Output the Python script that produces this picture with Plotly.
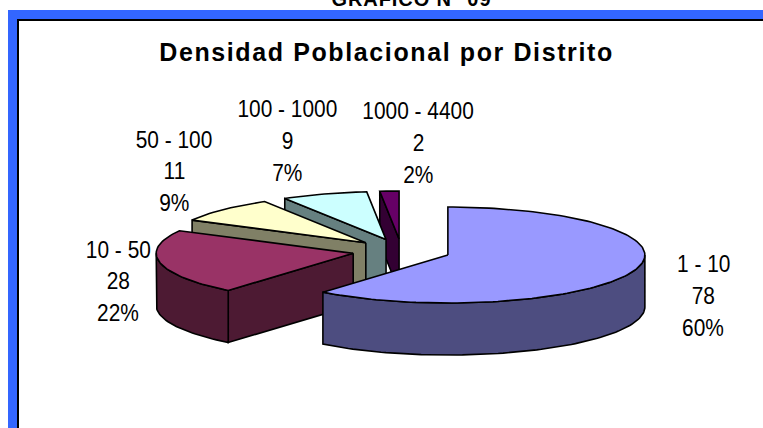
import math
import plotly.graph_objects as go

# --- data ---
categories = ["1 - 10", "10 - 50", "50 - 100", "100 - 1000", "1000 - 4400"]
values = [78, 28, 11, 9, 2]
percent_labels = ["60%", "22%", "9%", "7%", "2%"]

# --- styles ---
top_colors = ["#9999FF", "#993366", "#FFFFCC", "#CCFFFF", "#660066"]
side_colors = ["#4D4D80", "#4D1A33", "#808066", "#668080", "#330033"]
FONT = "Liberation Sans"
W, H = 763, 428

# --- layout of the projected pie, in pixels (axes map 1:1 to the page) ---
CX, CY, RX, RY, DEPTH, EXPLODE = 401.5, 251, 197, 48, 52, 0.25
label_x = [703, 118, 174, 287, 418]
label_y = [[263, 295, 327], [249, 280, 312], [139, 170, 202], [108, 140, 172], [110, 142, 174]]

fig = go.Figure()


def px(c, a):
    return c[0] + RX * math.sin(math.radians(a)), c[1] - RY * math.cos(math.radians(a))


def arc(c, a0, a1, dy=0.0):
    n = max(2, int(abs(a1 - a0) / 1.5) + 1)
    pts = [px(c, a0 + (a1 - a0) * i / (n - 1)) for i in range(n)]
    return [(x, y + dy) for x, y in pts]


def poly(pts, fill):
    xs = [p[0] for p in pts] + [pts[0][0]]
    ys = [p[1] for p in pts] + [pts[0][1]]
    fig.add_trace(go.Scatter(x=xs, y=ys, mode="lines", fill="toself", fillcolor=fill,
                             line=dict(color="#000000", width=1.6), hoverinfo="skip",
                             showlegend=False))


total = sum(values)
slices = []
start = 0.0
for i, v in enumerate(values):
    sweep = v / total * 360
    slices.append((i, start, start + sweep))
    start += sweep

# paint back to front
for i, a0, a1 in reversed(slices):
    mid = math.radians((a0 + a1) / 2)
    c = (CX + EXPLODE * RX * math.sin(mid), CY - EXPLODE * RY * math.cos(mid))
    side = side_colors[i]
    # cut faces that look towards the viewer
    if math.sin(math.radians(a0)) < -1e-6:
        e = px(c, a0)
        poly([c, e, (e[0], e[1] + DEPTH), (c[0], c[1] + DEPTH)], side)
    if math.sin(math.radians(a1)) > 1e-6:
        e = px(c, a1)
        poly([c, e, (e[0], e[1] + DEPTH), (c[0], c[1] + DEPTH)], side)
    # outer rim, front half only
    r0, r1 = max(a0, 90), min(a1, 270)
    if r1 > r0:
        poly(arc(c, r0, r1) + arc(c, r1, r0, DEPTH), side)
    # top
    poly([c] + arc(c, a0, a1), top_colors[i])

# slice labels, one line each
for i, cat in enumerate(categories):
    for text, y in zip([cat, str(values[i]), percent_labels[i]], label_y[i]):
        fig.add_annotation(x=label_x[i], y=y, text=text, showarrow=False, xanchor="center",
                           yanchor="middle", font=dict(family=FONT, size=24, color="#000000"))

fig.add_annotation(x=385.5, y=52, text="Densidad Poblacional por Distrito", showarrow=False,
                   xanchor="center", yanchor="middle",
                   font=dict(family=FONT, size=25, color="#000000", weight=700))
fig.add_annotation(x=411, y=0, yshift=1, text="GRAFICO N° 09", showarrow=False, xanchor="center",
                   yanchor="middle", font=dict(family=FONT, size=20, color="#000000", weight=700))

fig.update_layout(
    width=W, height=H, margin=dict(l=0, r=0, t=0, b=0),
    paper_bgcolor="#FFFFFF", plot_bgcolor="#FFFFFF", showlegend=False,
    xaxis=dict(range=[0, W], visible=False, fixedrange=True),
    yaxis=dict(range=[H, 0], visible=False, fixedrange=True),
    shapes=[
        dict(type="rect", xref="x", yref="y", x0=8, y0=10, x1=W + 5, y1=H + 5, line=dict(width=0),
             fillcolor="#3366FF", layer="below"),
        dict(type="rect", xref="x", yref="y", x0=18, y0=20, x1=W + 5, y1=H + 5,
             line=dict(color="#000000", width=2), fillcolor="#FFFFFF", layer="below"),
    ],
)
post = """
document.body.style.margin = '0';
document.documentElement.style.overflow = 'hidden';
document.querySelectorAll('.annotation-text').forEach(function (t) {
  var s = t.textContent, L = t.getComputedTextLength();
  if (s.indexOf('Densidad') === 0) {
    t.setAttribute('textLength', 453); t.setAttribute('lengthAdjust', 'spacing');
  } else if (s.indexOf('GRAFICO') === 0) {
    t.setAttribute('textLength', 159); t.setAttribute('lengthAdjust', 'spacing');
  } else {
    t.setAttribute('textLength', L * 0.87); t.setAttribute('lengthAdjust', 'spacingAndGlyphs');
  }
});
"""
fig.write_html("out.html", config={"displayModeBar": False}, post_script=post)
